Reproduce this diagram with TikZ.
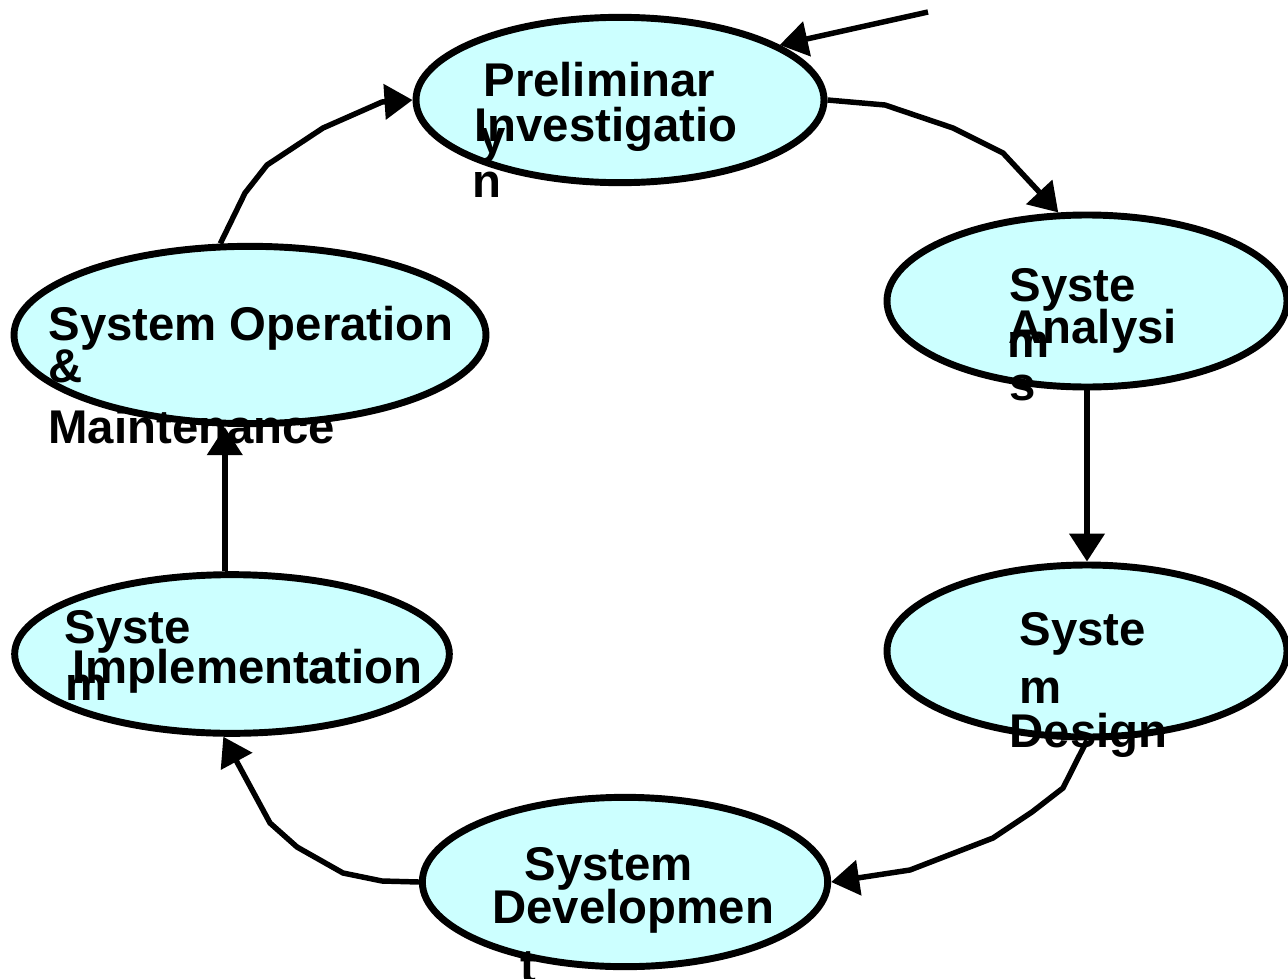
\documentclass[tikz,border=0pt]{standalone}
\usepackage{fontspec}
\setmainfont{Liberation Sans}
\usetikzlibrary{shapes.geometric,arrows.meta}
\definecolor{stagefill}{HTML}{CCFFFF}

\tikzset{every picture/.style={line width=0.75pt}}
\tikzset{
  stage/.style={ellipse, draw, fill=stagefill, line width=5.2pt, inner sep=0pt},
  link/.style={line width=4.1pt, -{Triangle[length=21pt,width=26pt]}},
  lbl/.style={anchor=base west, inner sep=0pt, font=\fontsize{35.5}{42}\selectfont\bfseries},
}

\begin{document}
\begin{tikzpicture}[x=0.75pt,y=0.75pt,yscale=-1,xscale=1]
\useasboundingbox (0,0) rectangle (1288,978);

%Shape: Ellipse
\draw (620,100) node (prelim) [stage, minimum width=306pt, minimum height=124pt] {};
%Shape: Ellipse
\draw (1087,301) node (anal) [stage, minimum width=300pt, minimum height=129pt] {};
%Shape: Ellipse
\draw (250,335) node (ops) [stage, minimum width=354pt, minimum height=133pt] {};
%Shape: Ellipse
\draw (232,654) node (impl) [stage, minimum width=326pt, minimum height=119pt] {};
%Shape: Ellipse
\draw (1087,651) node (des) [stage, minimum width=300pt, minimum height=129pt] {};
%Shape: Ellipse
\draw (625,882) node (dev) [stage, minimum width=304pt, minimum height=127pt] {};

%Straight Lines
\coordinate (feed) at (928,12);
\draw [link] (feed) -- (prelim.19);
%Curve Lines
\draw [link] (ops.108) -- (245,193) -- (267,165) -- (323,128) -- (382,102) -- (prelim.west);
%Curve Lines
\draw [link] (prelim.east) -- (885,105) -- (953,128) -- (1003,153) -- (anal.108);
%Straight Lines
\draw [link] (anal.south) -- (des.north);
%Curve Lines
\draw [link] (des.south) -- (1063,788) -- (1032,812) -- (993,838) -- (910,870) -- (dev.east);
%Curve Lines
\draw [link] (dev.west) -- (382,881) -- (343,873) -- (297,847) -- (270,823) -- (impl.264);
%Straight Lines
\draw [link] (impl.95) -- (impl.95 |- ops.south);

% Text Node
\draw (483,96) node (prelimA) [lbl] {Preliminar};
% Text Node
\draw (474,141) node (prelimB) [lbl] {Investigatio};
% Text Node
\draw (479,153) node (prelimC) [lbl] {y};
% Text Node
\draw (472,197) node (prelimD) [lbl] {n};
% Text Node
\draw (1009,301) node (analA) [lbl] {Syste};
% Text Node
\draw (1008,343) node (analB) [lbl] {Analysi};
% Text Node
\draw (1007,357) node (analC) [lbl] {m};
% Text Node
\draw (1009,400) node (analD) [lbl] {s};
% Text Node
\draw (48,340) node (opsA) [lbl] {System Operation};
% Text Node
\draw (48,382) node (opsB) [lbl] {\&};
% Text Node
\draw (48,443) node (opsC) [lbl] {Maintenance};
% Text Node
\draw (64,643) node (implA) [lbl] {Syste};
% Text Node
\draw (72,683) node (implB) [lbl] {Implementation};
% Text Node
\draw (65,700) node (implC) [lbl] {m};
% Text Node
\draw (308,683) node (implD) [lbl] {a};
% Text Node
\draw (1019,645) node (desA) [lbl] {Syste};
% Text Node
\draw (1019,703) node (desB) [lbl] {m};
% Text Node
\draw (1009,747) node (desC) [lbl] {Design};
% Text Node
\draw (524,880) node (devA) [lbl] {System};
% Text Node
\draw (492,923) node (devB) [lbl] {Developmen};
% Text Node
\draw (520,982) node (devC) [lbl] {t};

\end{tikzpicture}
\end{document}
